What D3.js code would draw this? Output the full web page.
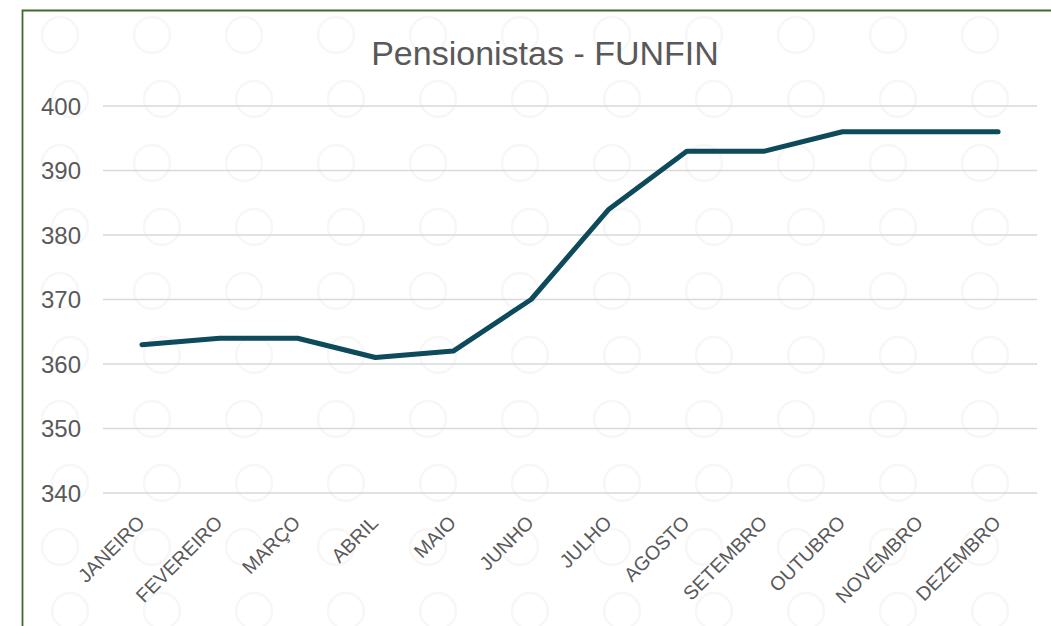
<!DOCTYPE html>
<html lang="pt">
<head>
<meta charset="utf-8">
<title>Pensionistas - FUNFIN</title>
<style>
  body { margin: 0; background: #fff; }
  svg { display: block; font-family: "Liberation Sans", Arial, sans-serif; }
</style>
</head>
<body>
<svg id="chart" width="1051" height="626"></svg>
<script src="https://cdn.jsdelivr.net/npm/d3@7/dist/d3.min.js"></script>
<script>
const months = ["JANEIRO", "FEVEREIRO", "MARÇO", "ABRIL", "MAIO", "JUNHO", "JULHO",
  "AGOSTO", "SETEMBRO", "OUTUBRO", "NOVEMBRO", "DEZEMBRO"];
const pensionistas = [363, 364, 364, 361, 362, 370, 384, 393, 393, 396, 396, 396];
const yTicks = [340, 350, 360, 370, 380, 390, 400];

const svg = d3.select("#chart");
const W = 1051, H = 626;
const plotLeft = 103, plotRight = 1037, plotTop = 106, plotBottom = 493;

// very faint watermark pattern
const wm = svg.append("g").attr("fill", "none").attr("stroke", "#f7f7f7").attr("stroke-width", 2.5);
for (let gy = 10; gy < H; gy += 64) {
  for (let gx = 0; gx < W; gx += 92) {
    const ox = (Math.floor(gy / 64) % 2) * 10;
    wm.append("circle").attr("cx", gx + ox + 60).attr("cy", gy + 25).attr("r", 18);
  }
}

// chart border (dark green)
svg.append("path")
  .attr("d", `M22.5,${H} V10.5 H${W}`)
  .attr("fill", "none")
  .attr("stroke", "#3d6b2e")
  .attr("stroke-width", 1.8);

const x = d3.scaleBand().domain(months).range([plotLeft, plotRight]);
const y = d3.scaleLinear().domain([340, 400]).range([plotBottom, plotTop]);

// gridlines
svg.append("g")
  .selectAll("line")
  .data(yTicks)
  .join("line")
  .attr("x1", plotLeft).attr("x2", plotRight)
  .attr("y1", d => y(d)).attr("y2", d => y(d))
  .attr("stroke", "#d9d9d9")
  .attr("stroke-width", 1.5);

// y axis labels
svg.append("g")
  .selectAll("text")
  .data(yTicks)
  .join("text")
  .attr("x", 81)
  .attr("y", d => y(d))
  .attr("dy", "0.36em")
  .attr("text-anchor", "end")
  .attr("font-size", 24)
  .attr("fill", "#595959")
  .text(d => d);

// x axis labels, rotated
svg.append("g")
  .selectAll("text")
  .data(months)
  .join("text")
  .attr("transform", d => `translate(${x(d) + x.bandwidth() / 2 + 4},${plotBottom + 31}) rotate(-45)`)
  .attr("text-anchor", "end")
  .attr("font-size", 19.5)
  .attr("fill", "#595959")
  .text(d => d);

// line
const line = d3.line()
  .x((d, i) => x(months[i]) + x.bandwidth() / 2)
  .y(d => y(d));

svg.append("path")
  .datum(pensionistas)
  .attr("d", line)
  .attr("fill", "none")
  .attr("stroke", "#0d4a5b")
  .attr("stroke-width", 5)
  .attr("stroke-linejoin", "round")
  .attr("stroke-linecap", "round");

// title
svg.append("text")
  .attr("x", 545)
  .attr("y", 65)
  .attr("text-anchor", "middle")
  .attr("font-size", 34)
  .attr("fill", "#595959")
  .text("Pensionistas - FUNFIN");
</script>
</body>
</html>
